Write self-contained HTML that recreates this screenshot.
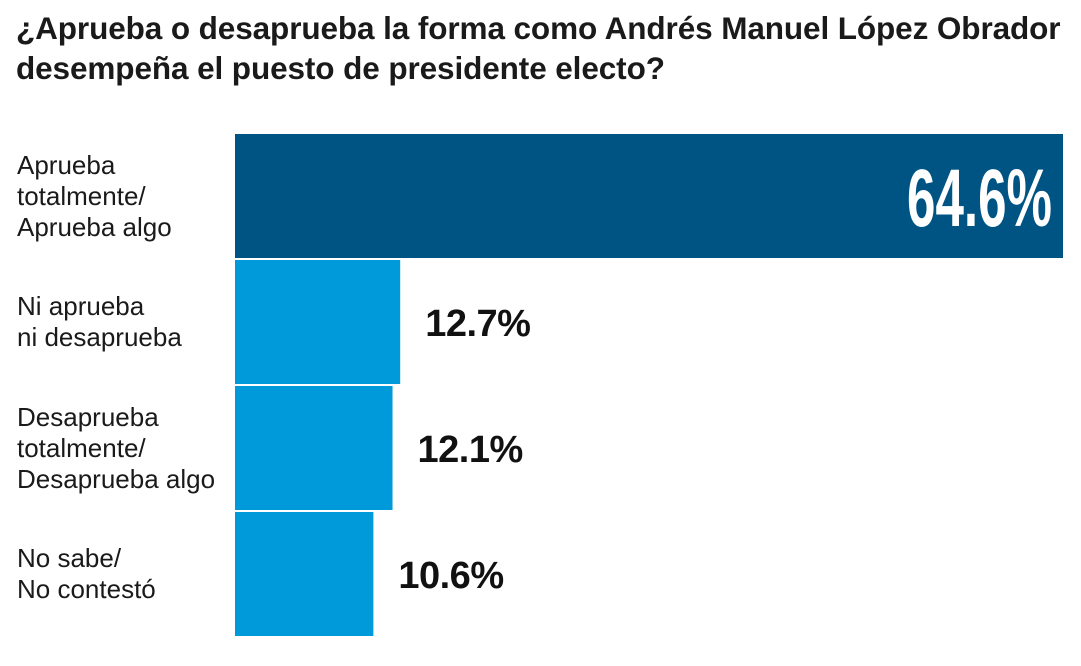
<!DOCTYPE html>
<html><head><meta charset="utf-8">
<style>
body{margin:0;width:1081px;height:666px;background:#fff;overflow:hidden;font-family:"Liberation Sans",sans-serif;}
#title{position:absolute;left:16px;top:8px;font-size:31.5px;font-weight:bold;line-height:40px;color:#1a1a1a;letter-spacing:-0.1px;}
.lbl{position:absolute;left:17px;font-size:26px;line-height:31px;color:#1a1a1a;}
svg{position:absolute;left:0;top:0;}
</style></head><body>
<div id="title">¿Aprueba o desaprueba la forma como Andrés Manuel López Obrador<br>desempeña el puesto de presidente electo?</div>
<div id="labels"></div>
<svg id="chart" width="1081" height="666"></svg>
<script>
const categories=["Aprueba<br>totalmente/<br>Aprueba algo","Ni aprueba<br>ni desaprueba","Desaprueba<br>totalmente/<br>Desaprueba algo","No sabe/<br>No contestó"];
const values=[64.6,12.7,12.1,10.6];
const valueLabels=["64.6%","12.7%","12.1%","10.6%"];
const x0=235,x1=1060,top0=134,rowH=126,barH=124;
const xs=v=>x0+(x1-x0)*v/64.6;
const svg=document.getElementById('chart');
const ns="http://www.w3.org/2000/svg";
const lc=document.getElementById('labels');
values.forEach((v,i)=>{
  const y=top0+i*rowH;
  const r=document.createElementNS(ns,'rect');
  r.setAttribute('x',x0);r.setAttribute('y',y);
  r.setAttribute('width',xs(v)-x0+3);r.setAttribute('height',barH);
  r.setAttribute('fill',i===0?'#005483':'#0099d9');
  
  
  svg.appendChild(r);
  const t=document.createElementNS(ns,'text');
  t.textContent=valueLabels[i];
  t.setAttribute('font-family','"Liberation Sans",sans-serif');
  t.setAttribute('font-weight','bold');
  if(i===0){
    t.setAttribute('x',xs(v)-8);t.setAttribute('text-anchor','end');
    t.setAttribute('y',y+barH/2+30);t.setAttribute('font-size','82');t.setAttribute('fill','#fff');
    t.setAttribute('textLength','145');t.setAttribute('lengthAdjust','spacingAndGlyphs');
  }else{
    t.setAttribute('x',xs(v)+28);
    t.setAttribute('y',y+barH/2+14);t.setAttribute('font-size','38');t.setAttribute('fill','#111');
    t.setAttribute('letter-spacing','-0.5');
  }
  
  
  svg.appendChild(t);
  const d=document.createElement('div');
  d.className='lbl';d.innerHTML=categories[i];
  const lines=categories[i].split('<br>').length;
  d.style.top=(y+barH/2-lines*15.5)+'px';
  
  
  lc.appendChild(d);
});
</script>
</body></html>
